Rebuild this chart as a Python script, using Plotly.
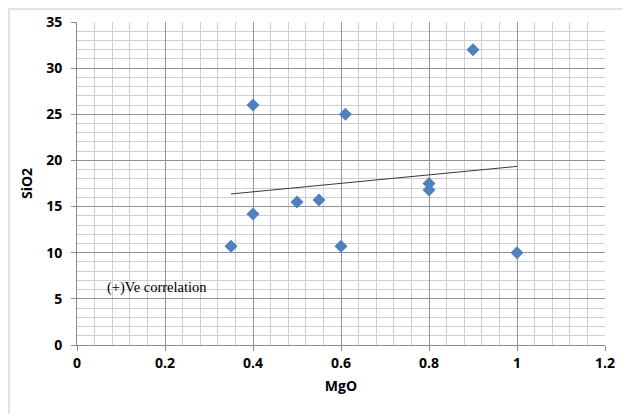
import numpy as np
import plotly.graph_objects as go

# Data
mgo = [0.35, 0.40, 0.40, 0.50, 0.55, 0.60, 0.61, 0.80, 0.80, 0.90, 1.00]
sio2 = [10.7, 14.2, 26.0, 15.5, 15.7, 10.7, 25.0, 17.5, 16.8, 32.0, 10.0]

x_ticks = [0, 0.2, 0.4, 0.6, 0.8, 1.0, 1.2]
x_tick_labels = ["0", "0.2", "0.4", "0.6", "0.8", "1", "1.2"]
y_ticks = [0, 5, 10, 15, 20, 25, 30, 35]

# Linear trendline (least squares) over the data range
slope, intercept = np.polyfit(mgo, sio2, 1)
tx = [min(mgo), max(mgo)]
ty = [slope * v + intercept for v in tx]

fig = go.Figure()
fig.add_trace(go.Scatter(
    x=tx, y=ty, mode="lines",
    line=dict(color="#3a3a3a", width=1),
    hoverinfo="skip", showlegend=False,
))
fig.add_trace(go.Scatter(
    x=mgo, y=sio2, mode="markers",
    marker=dict(symbol="diamond", size=10, color="#4F81BD",
                line=dict(width=0)),
    showlegend=False,
))

tick_font = dict(family="Open Sans, DejaVu Sans, sans-serif", size=14,
                 color="#000000", weight="bold")

# The page body adds an 8px offset, so the figure is 8px smaller
W, H = 622, 406
L, R, T, B = 69, 25, 14, 69
pw, ph = W - L - R, H - T - B

fig.update_xaxes(
    range=[0, 1.2], tickvals=x_ticks, ticktext=x_tick_labels,
    showgrid=True, gridcolor="#939393", gridwidth=1,
    minor=dict(dtick=0.04, showgrid=True, gridcolor="#cfcfcf", gridwidth=1),
    showline=True, linecolor="#8c8c8c", linewidth=1,
    ticks="outside", ticklen=5, tickcolor="#8c8c8c",
    zeroline=False, tickfont=tick_font,
    title=dict(text="MgO", font=tick_font, standoff=10),
)
fig.update_yaxes(
    range=[0, 35], tickvals=y_ticks,
    showgrid=True, gridcolor="#939393", gridwidth=1,
    minor=dict(dtick=1, showgrid=True, gridcolor="#cfcfcf", gridwidth=1),
    showline=True, linecolor="#8c8c8c", linewidth=1,
    ticks="outside", ticklen=5, tickcolor="#8c8c8c",
    ticklabelstandoff=6,
    zeroline=False, tickfont=tick_font,
    title=dict(text="SiO2", font=tick_font, standoff=10),
)
fig.update_layout(
    width=W, height=H,
    margin=dict(l=L, r=R, t=T, b=B, autoexpand=False),
    paper_bgcolor="white", plot_bgcolor="white",
    font=dict(family="Open Sans, sans-serif"),
)

fig.add_annotation(
    x=0.064, y=6.2, xref="x", yref="y", xanchor="left", yanchor="middle",
    text="(+)Ve correlation", showarrow=False,
    font=dict(family="Liberation Serif, Times New Roman, serif", size=14.5, color="#000000"),
)
# Chart outer border
fig.add_shape(
    type="rect", xref="paper", yref="paper",
    x0=(1 - L) / pw, x1=(W + 20 - L) / pw,
    y0=-(B + 20) / ph, y1=1 + (T - 1) / ph,
    line=dict(color="#d9d9d9", width=1.5), fillcolor="rgba(0,0,0,0)",
    layer="below",
)

fig.write_html("out.html")
